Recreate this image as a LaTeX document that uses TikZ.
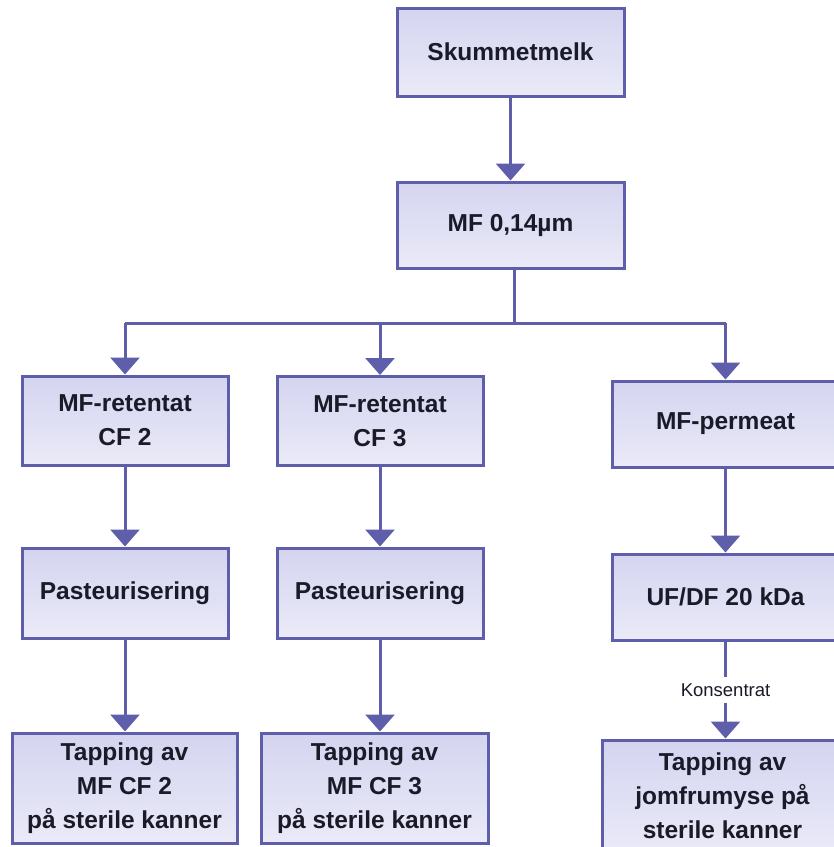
\documentclass[tikz,border=0pt]{standalone}
\usepackage{fontspec}
\setmainfont{Liberation Sans}
\usepackage{xcolor}
\usetikzlibrary{positioning,arrows.meta}

\definecolor{boxline}{RGB}{94,94,170}
\definecolor{boxtop}{RGB}{212,212,240}
\definecolor{boxbot}{RGB}{234,234,248}
\definecolor{boxtext}{RGB}{26,26,40}

\begin{document}
\begin{tikzpicture}[
			x=1pt, y=-1pt,
			every node/.style={
				align=center,
				text=boxtext,
				font=\fontsize{24.5}{34}\selectfont\bfseries
			},
			box/.style={
				draw=boxline,
				line width=3pt,
				top color=boxtop,
				bottom color=boxbot,
				minimum width=206pt,
				minimum height=89pt,
				inner sep=0pt
			},
			arrow/.style={line width=3pt,draw=boxline,-{Triangle[width=29pt,length=17pt]}},
			link/.style={line width=3pt,draw=boxline},
			lbl/.style={fill=white,font=\fontsize{18.5}{20}\selectfont,inner xsep=3pt,inner ysep=7pt}
			]
			\clip (0,0) rectangle (834,847);
			
			\node[box,minimum width=227pt,minimum height=88pt] (skim) at (510.5,52) {Skummetmelk};
			\node[box,minimum width=227pt,minimum height=86pt] (mf) at (510.5,225) {MF 0,14µm};
			
			\node[box] (ret2) at (125,420.5) {MF-retentat\\CF 2};
			\node[box] (ret3) at (380,421) {MF-retentat\\CF 3};
			\node[box,minimum width=227pt,minimum height=86pt] (perm) at (725.5,424) {MF-permeat};
			
			\node[box,minimum height=90pt] (past2) at (125,593) {Pasteurisering};
			\node[box,minimum height=90pt] (past3) at (380,593) {Pasteurisering};
			\node[box,minimum width=227pt,minimum height=86pt] (ufdf) at (725.5,597) {UF/DF 20 kDa};
			
			\node[box,minimum width=225pt,minimum height=110pt] (tap2) at (124.5,788) {Tapping av\\MF CF 2\\på sterile kanner};
			\node[box,minimum width=227pt,minimum height=110pt] (tap3) at (374.5,788) {Tapping av\\MF CF 3\\på sterile kanner};
			\node[box,minimum width=241pt,minimum height=112pt] (tapjm) at (722.5,796) {Tapping av\\jomfrumyse på\\sterile kanner};
			
			\coordinate (split) at (514,323);
			
			\draw[arrow] (skim) -- (mf);
			\draw[link] (mf.south -| split) -- (split);
			\draw[link] (ret2 |- split) -- (perm |- split);
			\draw[arrow] (ret2 |- split) -- (ret2);
			\draw[arrow] (ret3 |- split) -- (ret3);
			\draw[arrow] (perm |- split) -- (perm);
			
			\draw[arrow] (ret2) -- (past2);
			\draw[arrow] (ret3) -- (past3);
			\draw[arrow] (perm) -- (ufdf);
			
			\draw[arrow] (past2.south) -- (past2 |- tap2.north);
			\draw[arrow] (past3.south) -- (past3 |- tap3.north);
			\draw[arrow] (ufdf.south -| perm) -- node[lbl] (kons) {Konsentrat} (tapjm.north -| perm);
			
		\end{tikzpicture}
\end{document}
